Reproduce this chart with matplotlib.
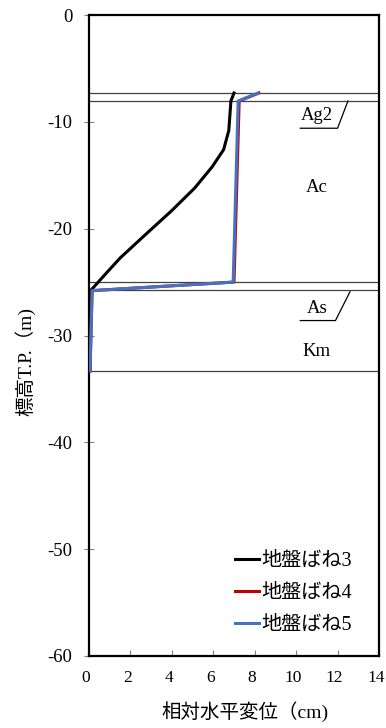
import matplotlib.pyplot as plt
from matplotlib.transforms import ScaledTranslation

plt.rcParams['font.family'] = ['Liberation Serif', 'Noto Sans CJK JP']
plt.rcParams['axes.unicode_minus'] = False

# 地盤ばね3
x3 = [7.0, 6.85, 6.75, 6.5, 5.95, 5.1, 4.0, 2.7, 1.5, 0.77, 0.1, 0.05]
y3 = [-7.3, -8.05, -10.8, -12.6, -14.2, -16.2, -18.3, -20.6, -22.75, -24.3, -25.75, -33.3]
# 地盤ばね4
x4 = [8.2, 7.25, 7.0, 0.15, 0.05]
y4 = [-7.3, -8.05, -25.0, -25.8, -33.3]
# 地盤ばね5
x5 = [8.16, 7.2, 6.96, 0.15, 0.05]
y5 = [-7.3, -8.05, -25.0, -25.8, -33.3]

layer_lines = [-7.3, -8.05, -25.0, -25.75, -33.3]
layer_names = ['Ag2', 'Ac', 'As', 'Km']
layer_text_y = [-9.4, -16.1, -27.5, -31.5]

fig = plt.figure(figsize=(3.86, 7.28), dpi=100)
ax = fig.add_axes([89 / 386, 1 - 656 / 728, 290 / 386, 641 / 728])

for yl in layer_lines:
    ax.axhline(yl, color='#404040', lw=0.9, zorder=1)

ax.plot(x3, y3, color='black', lw=2.2, label='地盤ばね3', zorder=3)
ax.plot(x4, y4, color='#c00000', lw=2.2, label='地盤ばね4', zorder=3)
ax.plot(x5, y5, color='#4472c4', lw=2.2, label='地盤ばね5', zorder=4)

for name, ty in zip(layer_names, layer_text_y):
    ax.text(11.0, ty, name, ha='center', va='center', fontsize=13.5)

# 引出線
ax.plot([10.2, 12.0, 12.5], [-10.6, -10.6, -8.05], color='black', lw=0.9)
ax.plot([10.2, 11.9, 12.6], [-28.6, -28.6, -25.9], color='black', lw=0.9)

ax.set_xlim(0, 14)
ax.set_ylim(-60, 0)
ax.set_xticks(range(0, 15, 2))
ax.set_yticks(range(-60, 1, 10))
ax.tick_params(axis='x', direction='in', length=4, labelsize=12.5, pad=10, color='#808080')
ax.tick_params(axis='y', direction='inout', length=7, labelsize=13.5, pad=8.5, color='#808080')
for s in ax.spines.values():
    s.set_linewidth(1.6)

# x目盛ラベルを少し左へ
shift = ScaledTranslation(-3 / 100, 0, fig.dpi_scale_trans)
for lbl in ax.get_xticklabels():
    lbl.set_transform(lbl.get_transform() + shift)

ax.set_xlabel('相対水平変位（cm)', fontsize=14, va='center')
ax.set_ylabel('標高T.P.（m)', fontsize=14, va='center')
ax.xaxis.set_label_coords(0.538, -0.087)
ax.yaxis.set_label_coords(-0.22, 0.459)

leg = ax.legend(loc='lower right', frameon=False, fontsize=14.5, handlelength=1.2,
                handletextpad=0.1, labelspacing=0.65, borderaxespad=0.2,
                bbox_to_anchor=(0.948, 0.014))

fig.savefig('out.png', dpi=100)
